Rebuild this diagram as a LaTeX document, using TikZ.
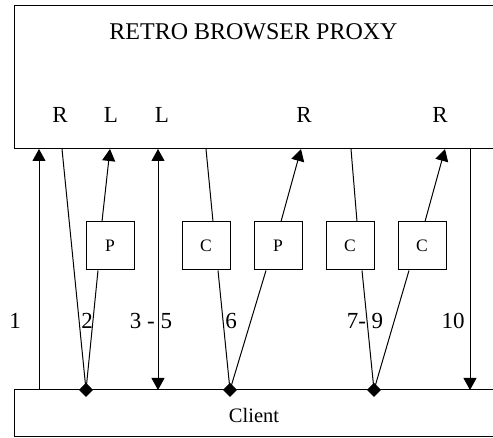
\documentclass[tikz,border=0pt]{standalone}
\usepackage{fontspec}
\setmainfont{Liberation Serif}
\usetikzlibrary{arrows.meta,calc,shapes.geometric}
\begin{document}
\begin{tikzpicture}[x=1pt,y=1pt,
  line width=1pt,
  bigbox/.style={draw,rectangle,minimum width=496pt,inner sep=0pt},
  smallbox/.style={draw,rectangle,minimum width=48pt,minimum height=48pt,inner sep=0pt,font=\fontsize{17.5}{17.5}\selectfont},
  junction/.style={draw,fill=black,diamond,minimum width=13pt,minimum height=13pt,inner sep=0pt},
  lbl/.style={inner sep=0pt,font=\fontsize{23}{23}\selectfont},
  arr/.style={-{Triangle[length=12pt,width=13pt]}},
  darr/.style={{Triangle[length=12pt,width=13pt]}-{Triangle[length=12pt,width=13pt]}}
]
\useasboundingbox (0,0) rectangle (493,438);
% main boxes
\node[bigbox,minimum height=143pt] (proxy) at (262,360.5) {};
\node[bigbox,minimum height=47pt] (client) at (262,24.5) {};
\node[inner sep=0pt,font=\fontsize{24}{24}\selectfont] (title) at (253.5,406) {RETRO BROWSER PROXY};
\node[inner sep=0pt,font=\fontsize{20.5}{20.5}\selectfont] (clientlbl) at (254,23) {Client};
% letters inside proxy
\node[lbl] (r1) at (60,323) {R};
\node[lbl] (l1) at (111,323) {L};
\node[lbl] (l2) at (162,323) {L};
\node[lbl] (r2) at (304,323) {R};
\node[lbl] (r3) at (440,323) {R};
% small boxes
\node[smallbox] (p1) at (110,192) {P};
\node[smallbox] (c1) at (206,192) {C};
\node[smallbox] (p2) at (278,192) {P};
\node[smallbox] (c2) at (350,192) {C};
\node[smallbox] (c3) at (422,192) {C};
% points on proxy bottom
\coordinate (a1) at (39,289);
\coordinate (a2) at (62,289);
\coordinate (a3) at (110,289);
\coordinate (a4) at (158,289);
\coordinate (a5) at (206,289);
\coordinate (a6) at (301,289);
\coordinate (a7) at (351,289);
\coordinate (a8) at (445,289);
\coordinate (a9) at (470,289);
% points on client top
\coordinate (b1) at (39,48);
\coordinate (b4) at (158,48);
\coordinate (b9) at (470,48);
% connectors
\draw[arr] (b1) -- (a1);
\draw (a2) -- (86,48);
\draw ([xshift=-12pt]p1.south) -- (86,48);
\draw[arr] ([xshift=-8pt]p1.north) -- (a3);
\draw[darr] (b4) -- (a4);
\draw (a5) -- ([xshift=7pt]c1.north);
\draw ([xshift=12pt]c1.south) -- (230,48);
\draw ([xshift=-12pt]p2.south) -- (230,48);
\draw[arr] ([xshift=3pt]p2.north) -- (a6);
\draw (a7) -- ([xshift=7pt]c2.north);
\draw ([xshift=12pt]c2.south) -- (374,48);
\draw ([xshift=-13pt]c3.south) -- (374,48);
\draw[arr] ([xshift=3pt]c3.north) -- (a8);
\draw[arr] (a9) -- (b9);
% junction diamonds
\node[junction] (d1) at (86,48) {};
\node[junction] (d2) at (230,48) {};
\node[junction] (d3) at (374,48) {};
% step labels
\node[lbl] (n1) at (15,117) {1};
\node[lbl] (n2) at (87,117) {2};
\node[lbl] (n3) at (151,117) {3 - 5};
\node[lbl] (n6) at (231,117) {6};
\node[lbl] (n7) at (365,117) {7- 9};
\node[lbl] (n10) at (453,117) {10};
\end{tikzpicture}
\end{document}
